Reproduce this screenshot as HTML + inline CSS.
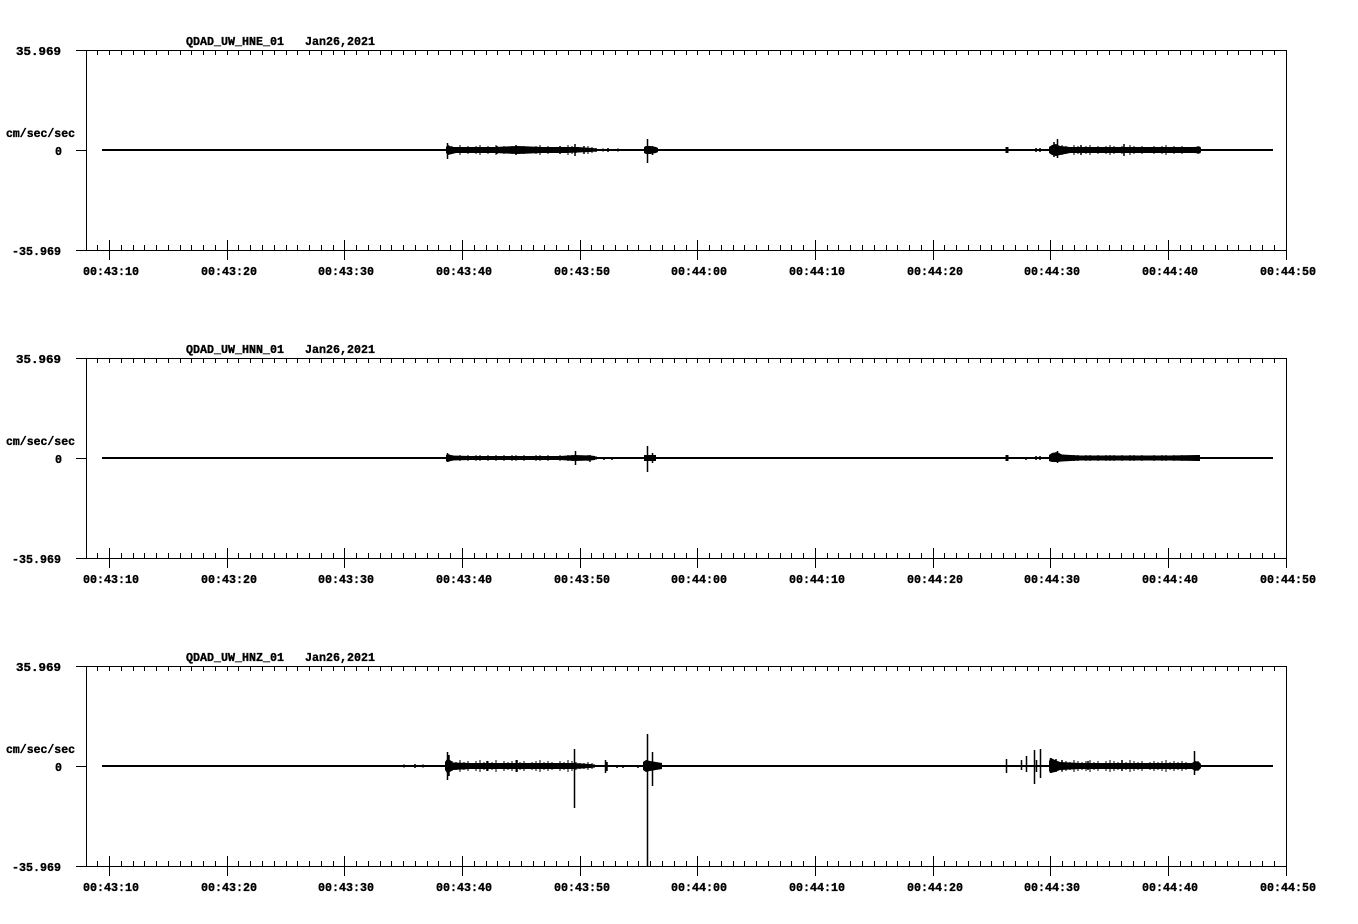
<!DOCTYPE html>
<html>
<head>
<meta charset="utf-8">
<style>
html,body{margin:0;padding:0;background:#fff;}
svg{display:block;}
text{font-family:"Liberation Mono","DejaVu Sans Mono",monospace;font-weight:bold;font-size:11.67px;fill:#000;stroke:#000;stroke-width:0.35px;}
</style>
</head>
<body>
<svg width="1358" height="924" viewBox="0 0 1358 924" xmlns="http://www.w3.org/2000/svg" xmlns:xlink="http://www.w3.org/1999/xlink">
<rect width="1358" height="924" fill="#fff"/>
<defs>
<g id="ax" stroke="#000" stroke-width="1" fill="none" shape-rendering="crispEdges">
<path d="M76 50.5H1287M76 250.5H1287M86.5 50V251M1286.5 50V251M76 150.5H86"/>
<path d="M97.5 50v5M109.5 50v5M121.5 50v5M133.5 50v5M144.5 50v5M156.5 50v5M168.5 50v5M180.5 50v5M191.5 50v5M203.5 50v5M215.5 50v5M227.5 50v5M238.5 50v5M250.5 50v5M262.5 50v5M274.5 50v5M286.5 50v5M297.5 50v5M309.5 50v5M321.5 50v5M333.5 50v5M344.5 50v5M356.5 50v5M368.5 50v5M380.5 50v5M391.5 50v5M403.5 50v5M415.5 50v5M427.5 50v5M438.5 50v5M450.5 50v5M462.5 50v5M474.5 50v5M486.5 50v5M497.5 50v5M509.5 50v5M521.5 50v5M533.5 50v5M544.5 50v5M556.5 50v5M568.5 50v5M580.5 50v5M591.5 50v5M603.5 50v5M615.5 50v5M627.5 50v5M638.5 50v5M650.5 50v5M662.5 50v5M674.5 50v5M686.5 50v5M697.5 50v5M709.5 50v5M721.5 50v5M733.5 50v5M744.5 50v5M756.5 50v5M768.5 50v5M780.5 50v5M791.5 50v5M803.5 50v5M815.5 50v5M827.5 50v5M838.5 50v5M850.5 50v5M862.5 50v5M874.5 50v5M886.5 50v5M897.5 50v5M909.5 50v5M921.5 50v5M933.5 50v5M944.5 50v5M956.5 50v5M968.5 50v5M980.5 50v5M991.5 50v5M1003.5 50v5M1015.5 50v5M1027.5 50v5M1038.5 50v5M1050.5 50v5M1062.5 50v5M1074.5 50v5M1086.5 50v5M1097.5 50v5M1109.5 50v5M1121.5 50v5M1133.5 50v5M1144.5 50v5M1156.5 50v5M1168.5 50v5M1180.5 50v5M1191.5 50v5M1203.5 50v5M1215.5 50v5M1227.5 50v5M1238.5 50v5M1250.5 50v5M1262.5 50v5M1274.5 50v5"/>
<path d="M97.5 245v5M109.5 245v5M121.5 245v5M133.5 245v5M144.5 245v5M156.5 245v5M168.5 245v5M180.5 245v5M191.5 245v5M203.5 245v5M215.5 245v5M227.5 245v5M238.5 245v5M250.5 245v5M262.5 245v5M274.5 245v5M286.5 245v5M297.5 245v5M309.5 245v5M321.5 245v5M333.5 245v5M344.5 245v5M356.5 245v5M368.5 245v5M380.5 245v5M391.5 245v5M403.5 245v5M415.5 245v5M427.5 245v5M438.5 245v5M450.5 245v5M462.5 245v5M474.5 245v5M486.5 245v5M497.5 245v5M509.5 245v5M521.5 245v5M533.5 245v5M544.5 245v5M556.5 245v5M568.5 245v5M580.5 245v5M591.5 245v5M603.5 245v5M615.5 245v5M627.5 245v5M638.5 245v5M650.5 245v5M662.5 245v5M674.5 245v5M686.5 245v5M697.5 245v5M709.5 245v5M721.5 245v5M733.5 245v5M744.5 245v5M756.5 245v5M768.5 245v5M780.5 245v5M791.5 245v5M803.5 245v5M815.5 245v5M827.5 245v5M838.5 245v5M850.5 245v5M862.5 245v5M874.5 245v5M886.5 245v5M897.5 245v5M909.5 245v5M921.5 245v5M933.5 245v5M944.5 245v5M956.5 245v5M968.5 245v5M980.5 245v5M991.5 245v5M1003.5 245v5M1015.5 245v5M1027.5 245v5M1038.5 245v5M1050.5 245v5M1062.5 245v5M1074.5 245v5M1086.5 245v5M1097.5 245v5M1109.5 245v5M1121.5 245v5M1133.5 245v5M1144.5 245v5M1156.5 245v5M1168.5 245v5M1180.5 245v5M1191.5 245v5M1203.5 245v5M1215.5 245v5M1227.5 245v5M1238.5 245v5M1250.5 245v5M1262.5 245v5M1274.5 245v5"/>
<path d="M109.5 240v20M227.5 240v20M344.5 240v20M462.5 240v20M580.5 240v20M697.5 240v20M815.5 240v20M933.5 240v20M1050.5 240v20M1168.5 240v20M1286.5 240v20"/>
</g>
</defs>

<use href="#ax" xlink:href="#ax"/>
<use href="#ax" xlink:href="#ax" transform="translate(0,308)"/>
<use href="#ax" xlink:href="#ax" transform="translate(0,616)"/>

<!-- Labels panel 1 -->
<text x="186" y="45" textLength="189" lengthAdjust="spacingAndGlyphs" xml:space="preserve">QDAD_UW_HNE_01   Jan26,2021</text>
<text x="16" y="55" textLength="45" lengthAdjust="spacingAndGlyphs">35.969</text>
<text x="6" y="137" textLength="69" lengthAdjust="spacingAndGlyphs">cm/sec/sec</text>
<text x="55" y="155">0</text>
<text x="12" y="255" textLength="49" lengthAdjust="spacingAndGlyphs">-35.969</text>
<g>
<text x="83" y="275" textLength="56" lengthAdjust="spacingAndGlyphs">00:43:10</text>
<text x="201" y="275" textLength="56" lengthAdjust="spacingAndGlyphs">00:43:20</text>
<text x="318" y="275" textLength="56" lengthAdjust="spacingAndGlyphs">00:43:30</text>
<text x="436" y="275" textLength="56" lengthAdjust="spacingAndGlyphs">00:43:40</text>
<text x="554" y="275" textLength="56" lengthAdjust="spacingAndGlyphs">00:43:50</text>
<text x="671" y="275" textLength="56" lengthAdjust="spacingAndGlyphs">00:44:00</text>
<text x="789" y="275" textLength="56" lengthAdjust="spacingAndGlyphs">00:44:10</text>
<text x="907" y="275" textLength="56" lengthAdjust="spacingAndGlyphs">00:44:20</text>
<text x="1024" y="275" textLength="56" lengthAdjust="spacingAndGlyphs">00:44:30</text>
<text x="1142" y="275" textLength="56" lengthAdjust="spacingAndGlyphs">00:44:40</text>
<text x="1260" y="275" textLength="56" lengthAdjust="spacingAndGlyphs">00:44:50</text>
</g>

<!-- Labels panel 2 -->
<text x="186" y="353" textLength="189" lengthAdjust="spacingAndGlyphs" xml:space="preserve">QDAD_UW_HNN_01   Jan26,2021</text>
<text x="16" y="363" textLength="45" lengthAdjust="spacingAndGlyphs">35.969</text>
<text x="6" y="445" textLength="69" lengthAdjust="spacingAndGlyphs">cm/sec/sec</text>
<text x="55" y="463">0</text>
<text x="12" y="563" textLength="49" lengthAdjust="spacingAndGlyphs">-35.969</text>
<g>
<text x="83" y="583" textLength="56" lengthAdjust="spacingAndGlyphs">00:43:10</text>
<text x="201" y="583" textLength="56" lengthAdjust="spacingAndGlyphs">00:43:20</text>
<text x="318" y="583" textLength="56" lengthAdjust="spacingAndGlyphs">00:43:30</text>
<text x="436" y="583" textLength="56" lengthAdjust="spacingAndGlyphs">00:43:40</text>
<text x="554" y="583" textLength="56" lengthAdjust="spacingAndGlyphs">00:43:50</text>
<text x="671" y="583" textLength="56" lengthAdjust="spacingAndGlyphs">00:44:00</text>
<text x="789" y="583" textLength="56" lengthAdjust="spacingAndGlyphs">00:44:10</text>
<text x="907" y="583" textLength="56" lengthAdjust="spacingAndGlyphs">00:44:20</text>
<text x="1024" y="583" textLength="56" lengthAdjust="spacingAndGlyphs">00:44:30</text>
<text x="1142" y="583" textLength="56" lengthAdjust="spacingAndGlyphs">00:44:40</text>
<text x="1260" y="583" textLength="56" lengthAdjust="spacingAndGlyphs">00:44:50</text>
</g>

<!-- Labels panel 3 -->
<text x="186" y="661" textLength="189" lengthAdjust="spacingAndGlyphs" xml:space="preserve">QDAD_UW_HNZ_01   Jan26,2021</text>
<text x="16" y="671" textLength="45" lengthAdjust="spacingAndGlyphs">35.969</text>
<text x="6" y="753" textLength="69" lengthAdjust="spacingAndGlyphs">cm/sec/sec</text>
<text x="55" y="771">0</text>
<text x="12" y="871" textLength="49" lengthAdjust="spacingAndGlyphs">-35.969</text>
<g>
<text x="83" y="891" textLength="56" lengthAdjust="spacingAndGlyphs">00:43:10</text>
<text x="201" y="891" textLength="56" lengthAdjust="spacingAndGlyphs">00:43:20</text>
<text x="318" y="891" textLength="56" lengthAdjust="spacingAndGlyphs">00:43:30</text>
<text x="436" y="891" textLength="56" lengthAdjust="spacingAndGlyphs">00:43:40</text>
<text x="554" y="891" textLength="56" lengthAdjust="spacingAndGlyphs">00:43:50</text>
<text x="671" y="891" textLength="56" lengthAdjust="spacingAndGlyphs">00:44:00</text>
<text x="789" y="891" textLength="56" lengthAdjust="spacingAndGlyphs">00:44:10</text>
<text x="907" y="891" textLength="56" lengthAdjust="spacingAndGlyphs">00:44:20</text>
<text x="1024" y="891" textLength="56" lengthAdjust="spacingAndGlyphs">00:44:30</text>
<text x="1142" y="891" textLength="56" lengthAdjust="spacingAndGlyphs">00:44:40</text>
<text x="1260" y="891" textLength="56" lengthAdjust="spacingAndGlyphs">00:44:50</text>
</g>

<!-- ===== Panel 1 signal ===== -->
<g fill="#000" stroke="none">
<rect x="102" y="149" width="1171" height="2"/>
<path d="M446 147L448 145L452 147L462 147L478 147L494 147L518 146L542 147L566 147L578 147L592 148L597 148.5L597 151.5L590 152L566 153L542 153L518 154L494 153L470 153L456 153L448 155L446 153Z"/>
<path d="M644 147L646 146L650 146L656 147L658 148L658 152L656 153L650 154L646 154L644 153Z"/>
<path d="M1049 147L1052 145L1056 144L1060 146L1070 147L1090 147L1110 147L1130 147L1150 147L1170 147L1194 147L1200 146.5L1201 148L1201 152L1200 153.5L1194 153L1170 153L1150 153L1130 153L1110 153L1090 153L1070 153L1060 155L1056 156L1052 155L1049 153Z"/>
</g>
<g stroke="#000" fill="none" stroke-width="1">
<path d="M452 146v8M456 147v6M460 145v10M464 147v6M468 146v8M472 148v4M476 146v8M480 145v10M484 147v6M488 146v8M492 147v6M496 145v10M500 148v4M504 146v8M508 147v6M512 146v8M516 145v10M520 147v6M524 146v8M528 148v4M532 147v6M536 146v8M540 145v10M544 147v6M548 146v8M552 147v6M556 148v4M560 146v8M564 147v6M568 145v10M572 146v8M576 147v6M580 148v4M584 147v6M588 146v8M592 147v6M596 148v4"/>
<path d="M1062 145v10M1066 146v8M1070 147v6M1074 145v10M1078 146v8M1082 147v6M1086 146v8M1090 145v10M1094 147v6M1098 146v8M1102 148v4M1106 146v8M1110 145v10M1114 146v8M1118 147v6M1122 146v8M1126 147v6M1130 145v10M1134 146v8M1138 147v6M1142 146v8M1146 148v4M1150 147v6M1154 146v8M1158 147v6M1162 146v8M1166 145v10M1170 147v6M1174 146v8M1178 147v6M1182 146v8M1186 147v6M1190 148v4M1194 147v6M1198 146v8"/>
</g>
<g stroke="#000" fill="none" stroke-width="1.5">
<path d="M447.5 143V159M575 144V156M516 145V155M497 146V154M560 146V154M584 146V154M603 148.5V151.5M608 148V152M618 148.5V151.5M647.5 139V163M652.5 146V155M1036 148V152M1040 148V152M1057.5 139V158M1054 142V157M1124 144V156M1081 145V155"/>
<path d="M1007 147V153" stroke-width="3"/>
</g>

<!-- ===== Panel 2 signal ===== -->
<g fill="#000" stroke="none">
<rect x="102" y="457" width="1171" height="2"/>
<path d="M446 455L448 454L452 455.5L470 456L500 456L530 456L560 456L575 455L590 455.5L595 456L595 460L590 460.5L575 461L560 460L530 460L500 460L470 460L452 460.5L448 462L446 461Z"/>
<path d="M644 455L656 455L656 461L644 461Z"/>
<path d="M1049 455L1052 453L1057 452L1062 454.5L1080 455.5L1110 455.5L1140 455.5L1170 455.5L1197 455L1200 455L1200 461L1197 461L1170 460.5L1140 460.5L1110 460.5L1080 460.5L1062 461.5L1057 462L1052 462L1049 461Z"/>
</g>
<g stroke="#000" fill="none" stroke-width="1">
<path d="M452 455v6M456 456v4M460 455v6M464 456v4M468 455v6M472 456v4M476 455v6M480 455v6M484 456v4M488 455v6M492 456v4M496 455v6M500 456v4M504 455v6M508 456v4M512 455v6M516 455v6M520 456v4M524 455v6M528 456v4M532 456v4M536 455v6M540 455v6M544 456v4M548 455v6M552 456v4M556 456v4M560 455v6M564 456v4M568 455v6M572 455v6M576 456v4M580 456v4M584 456v4M588 455v6M592 456v4M596 456v4"/>
<path d="M1062 455v6M1066 455v6M1070 456v4M1074 455v6M1078 455v6M1082 456v4M1086 455v6M1090 455v6M1094 456v4M1098 455v6M1102 456v4M1106 455v6M1110 455v6M1114 455v6M1118 456v4M1122 455v6M1126 456v4M1130 455v6M1134 455v6M1138 456v4M1142 455v6M1146 456v4M1150 456v4M1154 455v6M1158 456v4M1162 455v6M1166 455v6M1170 456v4M1174 455v6M1178 456v4M1182 455v6M1186 456v4M1190 456v4M1194 456v4M1198 455v6"/>
</g>
<g stroke="#000" fill="none" stroke-width="1.5">
<path d="M447.5 453V462M575.5 451V465M590 455V462M604 457V460M612 457V460M647.5 446V472M652.5 453V463M1026 457V460M1036 456V460M1040 456V460M1057.5 451V463M1198 455V461"/>
<path d="M1007 455V461" stroke-width="3"/>
</g>

<!-- ===== Panel 3 signal ===== -->
<g fill="#000" stroke="none">
<rect x="102" y="765" width="1171" height="2"/>
<path d="M445 762L447 759L450 760L453 762.5L470 763L500 763L530 763L560 763L574 763L590 764L595 764.5L595 767.5L590 768L574 769L560 769L530 769L500 769L470 769L453 770L450 772L447 773L445 770Z"/>
<path d="M643 762L646 760L650 761L656 762L662 763L662 769L656 770L650 771L646 772L643 770Z"/>
<path d="M1049 761L1051 758L1055 760L1060 762L1080 763L1110 763L1140 763L1170 763L1192 763L1195 761L1199 762L1201 764L1201 768L1199 770L1195 771L1192 769L1170 769L1140 769L1110 769L1080 769L1060 770L1055 772L1051 773L1049 771Z"/>
</g>
<g stroke="#000" fill="none" stroke-width="1">
<path d="M452 761v10M456 762v8M460 760v12M464 762v8M468 761v10M472 763v6M476 761v10M480 760v12M484 762v8M488 761v10M492 762v8M496 760v12M500 763v6M504 761v10M508 762v8M512 761v10M516 760v12M520 762v8M524 761v10M528 763v6M532 762v8M536 761v10M540 760v12M544 762v8M548 761v10M552 762v8M556 763v6M560 761v10M564 762v8M568 760v12M572 761v10M576 762v8M580 763v6M584 763v6M588 762v8M592 763v6"/>
<path d="M1062 760v12M1066 761v10M1070 762v8M1074 760v12M1078 761v10M1082 762v8M1086 761v10M1090 760v12M1094 762v8M1098 761v10M1102 763v6M1106 761v10M1110 760v12M1114 761v10M1118 762v8M1122 761v10M1126 762v8M1130 760v12M1134 761v10M1138 762v8M1142 761v10M1146 763v6M1150 762v8M1154 761v10M1158 762v8M1162 761v10M1166 760v12M1170 762v8M1174 761v10M1178 762v8M1182 761v10M1186 762v8M1190 763v6M1194 762v8M1198 761v10"/>
</g>
<g stroke="#000" fill="none" stroke-width="1.5">
<path d="M404 764.5V767.5M415 764V768M423 764.5V767.5M447.5 752V780M449 755V776M574.5 749V808M517 760V772M487 761V771M605.5 760V773M607 762V771M617 765V768M623 765V768M638 765V768M647.5 734V866M652.5 752V786M962 765V767M1006.5 759V773M1021.5 760V770M1026.5 756V772M1034.5 750V784M1036.5 760V772M1040.5 749V778M1050.5 758V773M1056 759V772M1062 760V771M1088 761V770M1122 760V771M1194.5 751V775"/>
</g>
</svg>
</body>
</html>
